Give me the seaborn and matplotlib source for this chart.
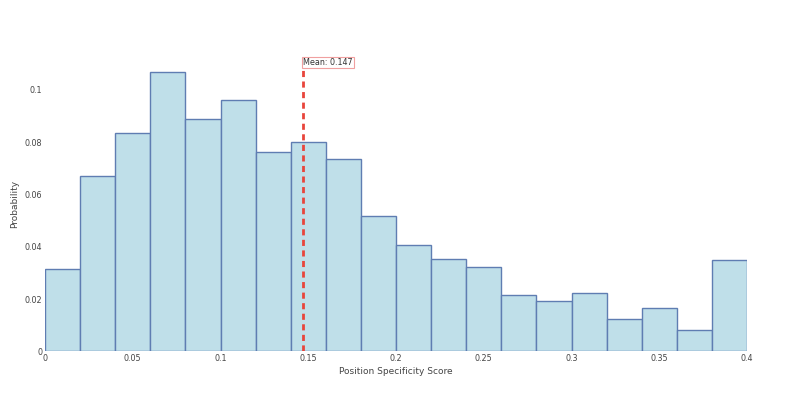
import numpy as np
import matplotlib
matplotlib.use("Agg")
import matplotlib.pyplot as plt
import seaborn as sns

bin_edges = [0.0, 0.02, 0.04, 0.06, 0.08, 0.10, 0.12, 0.14, 0.16, 0.18, 0.20,
             0.22, 0.24, 0.26, 0.28, 0.30, 0.32, 0.34, 0.36, 0.38, 0.40]
probabilities = [0.0316, 0.0671, 0.0834, 0.1070, 0.0888, 0.0962, 0.0763, 0.0801,
                 0.0737, 0.0517, 0.0408, 0.0354, 0.0321, 0.0217, 0.0191, 0.0224,
                 0.0124, 0.0166, 0.0083, 0.0349]
mean_value = 0.147
x_ticks = [0, 0.05, 0.1, 0.15, 0.2, 0.25, 0.3, 0.35, 0.4]
x_tick_labels = ["0", "0.05", "0.1", "0.15", "0.2", "0.25", "0.3", "0.35", "0.4"]
y_ticks = [0, 0.02, 0.04, 0.06, 0.08, 0.1]
y_tick_labels = ["0", "0.02", "0.04", "0.06", "0.08", "0.1"]

centers = [(a + b) / 2 for a, b in zip(bin_edges[:-1], bin_edges[1:])]

sns.set_theme(style="white")
plt.rcParams['font.family'] = ['DejaVu Sans']

fig = plt.figure(figsize=(7.93, 3.97), dpi=100)
ax = fig.add_axes([45 / 793, 1 - 351.3 / 397, 702 / 793, (351.3 - 57) / 397])

sns.histplot(x=centers, weights=probabilities, bins=bin_edges, stat="count",
             color="#bfdfe9", edgecolor="#5f7db2", linewidth=1.0, alpha=1.0, ax=ax)

ax.set_xlim(0, 0.4)
ax.set_ylim(0, 0.1126)
ax.axvline(mean_value, color="#e8453c", linestyle=(0, (2.2, 1.6)), linewidth=2.0, zorder=5)
ax.text(mean_value, 0.1105, "Mean: 0.147", fontsize=5.8, color="#333333",
        ha="left", va="center",
        bbox=dict(boxstyle="square,pad=0.15", facecolor="white", edgecolor="#f0a0a0", linewidth=0.8),
        zorder=6)

ax.set_xticks(x_ticks)
ax.set_xticklabels(x_tick_labels)
ax.set_yticks(y_ticks)
ax.set_yticklabels(y_tick_labels)
ax.tick_params(axis="both", length=0, labelsize=5.8, labelcolor="#444444", pad=2)
for s in ax.spines.values():
    s.set_visible(False)
ax.set_xlabel("Position Specificity Score", fontsize=6.5, color="#444444")
ax.xaxis.set_label_coords(0.5, -(371 - 351.3) / (351.3 - 57))
ax.set_ylabel("Probability", fontsize=6.5, color="#444444")
ax.yaxis.set_label_coords(-(45 - 15) / 702, 0.5)
ax.yaxis.label.set_va("center")
ax.xaxis.label.set_va("center")

fig.savefig("out.png", dpi=100)
